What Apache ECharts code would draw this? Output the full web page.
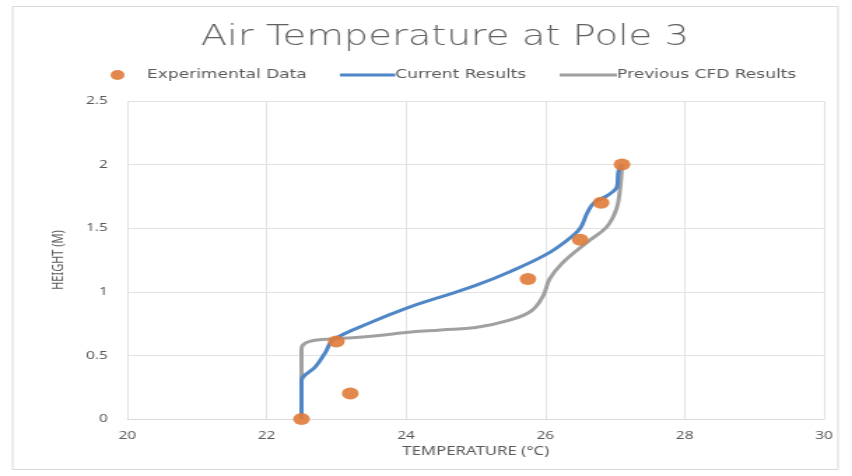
<!DOCTYPE html>
<html><head><meta charset="utf-8">
<script src="https://cdn.jsdelivr.net/npm/echarts@6/dist/echarts.min.js"></script>
<style>
html,body{margin:0;padding:0;background:#fff;overflow:hidden}
#wrap{width:852px;height:476px;overflow:hidden}
#c{width:609px;height:476px;transform:scaleX(1.399);transform-origin:0 0}
</style>
</head><body><div id="wrap"><div id="c"></div></div>
<script>
const xTicks = [20, 22, 24, 26, 28, 30];
const yTicks = [0, 0.5, 1, 1.5, 2, 2.5];
const experimental = [[22.5,0],[23.2,0.2],[23.0,0.61],[25.75,1.1],[26.5,1.41],[26.8,1.7],[27.1,2.0]];
const current = [[22.5,0],[22.5,0.3],[22.7,0.41],[22.85,0.53],[22.95,0.62],[23.5,0.76],[24.0,0.87],[24.5,0.96],[25.0,1.05],[25.5,1.16],[26.0,1.29],[26.3,1.4],[26.5,1.5],[26.6,1.62],[26.7,1.7],[26.9,1.76],[27.03,1.83],[27.05,1.95],[27.1,2.0]];
const previous = [[22.5,0],[22.5,0.55],[22.62,0.61],[23.0,0.63],[23.5,0.65],[24.0,0.68],[24.5,0.7],[25.0,0.72],[25.5,0.78],[25.8,0.85],[25.97,0.97],[26.06,1.1],[26.25,1.23],[26.6,1.39],[26.88,1.51],[27.02,1.65],[27.07,1.8],[27.1,2.0]];

const chart = echarts.init(document.getElementById('c'), null, {renderer:'canvas', width:609, height:476});
const txt = '#595959';
const legFont = {fontFamily:'DejaVu Sans', fontSize:12.2, color:txt};
const axFont = {fontFamily:'Noto Sans', fontSize:11, color:txt};
chart.setOption({
  animation:false,
  graphic:[{type:'rect', shape:{x:9,y:6.5,width:590,height:463}, style:{fill:'none', stroke:'#d9d9d9', lineWidth:1}, z:-1}],
  title:{text:'Air Temperature at Pole 3', left:313, textAlign:'center', top:19, textStyle:{fontFamily:'DejaVu Sans', fontWeight:200, fontSize:27.5, color:'#606060'}},
  legend:[
    {top:64, left:74, itemWidth:10, itemHeight:10, textStyle:Object.assign({padding:[0,0,0,11]}, legFont),
      data:[{name:'Experimental Data', icon:'circle'}]},
    {top:64, left:238, itemWidth:39.5, itemHeight:3, textStyle:Object.assign({padding:[0,0,0,-5]}, legFont),
      data:[{name:'Current Results', icon:'rect'}]},
    {top:64, left:395, itemWidth:41, itemHeight:3, textStyle:Object.assign({padding:[0,0,0,-5]}, legFont),
      data:[{name:'Previous CFD Results', icon:'rect'}]}
  ],
  grid:{left:91, right:20, top:101, bottom:57},
  xAxis:{type:'value', min:20, max:30, interval:2, name:'TEMPERATURE (°C)', nameLocation:'middle', nameGap:24,
    nameTextStyle:{fontFamily:'Noto Sans', fontSize:12, color:txt},
    axisLine:{show:true, lineStyle:{color:'#d9d9d9'}}, axisTick:{show:false},
    axisLabel:Object.assign({margin:11, formatter:v=>xTicks.includes(v)?String(v):''}, axFont),
    splitLine:{show:true, lineStyle:{color:'#e3e3e3'}}},
  yAxis:{type:'value', min:0, max:2.5, interval:0.5, name:'HEIGHT (M)', nameLocation:'middle', nameGap:44,
    nameTextStyle:axFont,
    axisLine:{show:false}, axisTick:{show:false},
    axisLabel:Object.assign({margin:14, formatter:v=>yTicks.includes(v)?String(v):''}, axFont),
    splitLine:{show:true, lineStyle:{color:'#e3e3e3'}}},
  series:[
    {name:'Previous CFD Results', type:'line', data:previous, smooth:0.4, showSymbol:false, symbol:'none', lineStyle:{color:'#a0a0a0', width:3}, itemStyle:{color:'#a0a0a0'}, z:2},
    {name:'Current Results', type:'line', data:current, smooth:0.4, showSymbol:false, symbol:'none', lineStyle:{color:'#4f86c6', width:3}, itemStyle:{color:'#4f86c6'}, z:3},
    {name:'Experimental Data', type:'scatter', data:experimental, symbol:'circle', symbolSize:12, itemStyle:{color:'#e07b39', opacity:0.9}, z:4}
  ]
});
</script></body></html>
